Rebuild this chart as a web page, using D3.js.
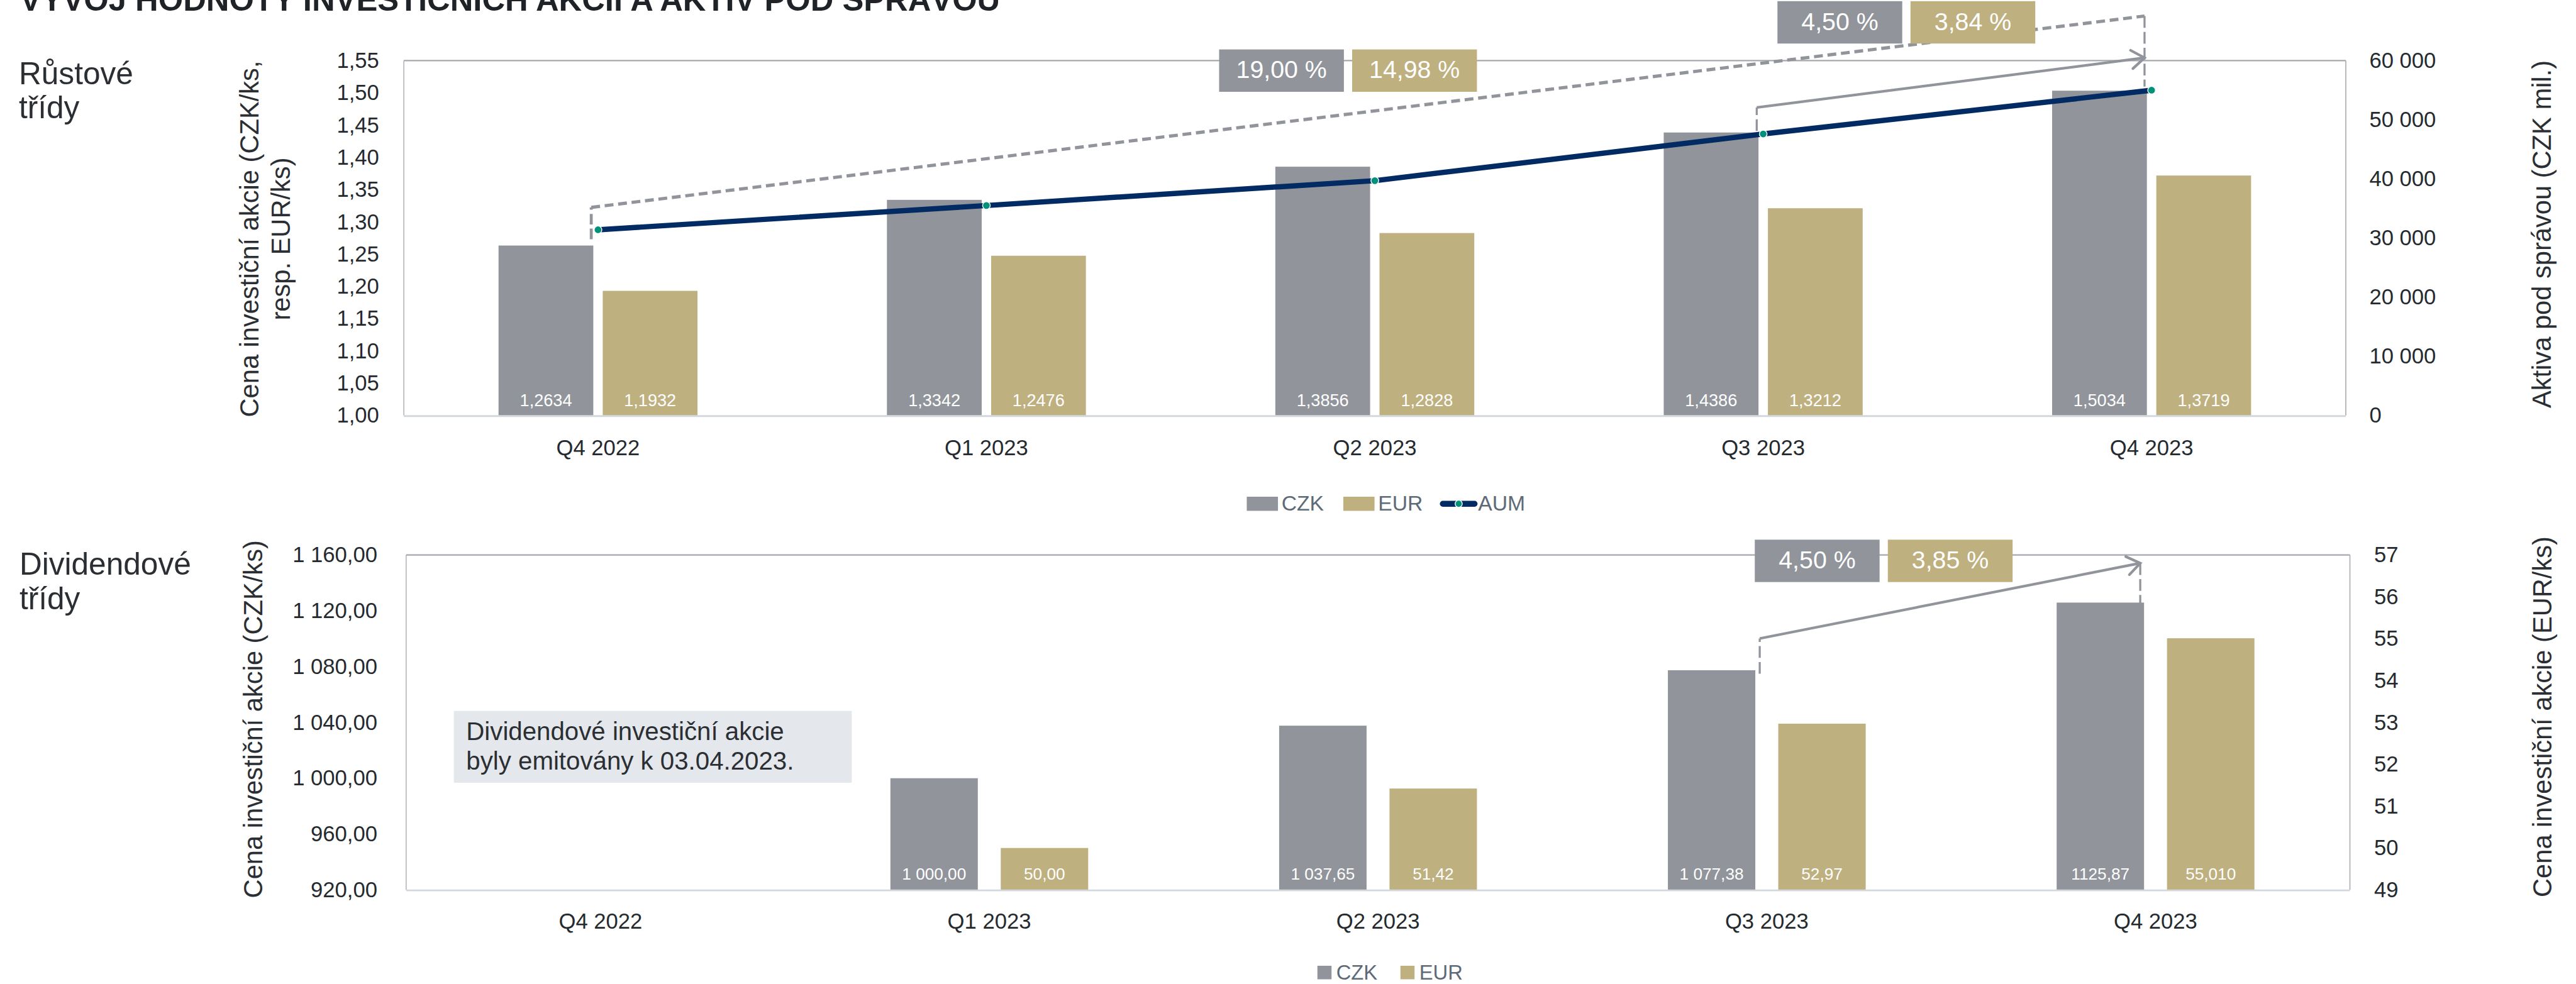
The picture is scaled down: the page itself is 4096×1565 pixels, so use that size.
<!DOCTYPE html>
<html><head><meta charset="utf-8">
<script src="https://cdn.jsdelivr.net/npm/d3@7"></script>
<style>
html,body{margin:0;padding:0;background:#fff;overflow:hidden;}
svg{display:block;}
text{font-family:"Liberation Sans",Arial,sans-serif;}
</style></head><body>
<svg id="c" width="4096" height="1565"></svg>
<script>
// ---------------- DATA ----------------
const categories = ["Q4 2022","Q1 2023","Q2 2023","Q3 2023","Q4 2023"];
const seriesNames = ["CZK","EUR"];
// Růstové třídy
const growthCZK = [1.2634,1.3342,1.3856,1.4386,1.5034];
const growthEUR = [1.1932,1.2476,1.2828,1.3212,1.3719];
const growthCZKLabels = ["1,2634","1,3342","1,3856","1,4386","1,5034"];
const growthEURLabels = ["1,1932","1,2476","1,2828","1,3212","1,3719"];
const aum = [31400,35500,39700,47600,55000];
const growthLeftTicks = [1.00,1.05,1.10,1.15,1.20,1.25,1.30,1.35,1.40,1.45,1.50,1.55];
const growthRightTicks = [0,10000,20000,30000,40000,50000,60000];
const growthPctLong = ["19,00 %","14,98 %"];
const growthPctShort = ["4,50 %","3,84 %"];
// Dividendové třídy
const divCZK = [null,1000.00,1037.65,1077.38,1125.87];
const divEUR = [null,50.00,51.42,52.97,55.010];
const divCZKLabels = ["","1 000,00","1 037,65","1 077,38","1125,87"];
const divEURLabels = ["","50,00","51,42","52,97","55,010"];
const divLeftTicks = [920,960,1000,1040,1080,1120,1160];
const divRightTicks = [49,50,51,52,53,54,55,56,57];
const divPct = ["4,50 %","3,85 %"];

// ---------------- STYLE ----------------
const S = 0.936;
const COL = {czk:"#91959b", eur:"#bfb080", aum:"#022a63", marker:"#00917a",
  text:"#252a2f", legend:"#5d6a77", border:"#a5a8ad", axis:"#d3d8dd",
  note:"#e4e7eb", dash:"#91959b"};
const loc = d3.formatLocale({decimal:",", thousands:"\u00a0", grouping:[3], currency:["",""]});

const svg = d3.select("#c");
const root = svg.append("g").attr("transform",`scale(${S})`);

// Title & section labels
root.append("text").attr("x",34).attr("y",18).attr("font-size",54).attr("font-weight","bold")
  .attr("fill","#1f2328").attr("textLength",1665).attr("lengthAdjust","spacingAndGlyphs")
  .text("VÝVOJ HODNOTY INVESTIČNÍCH AKCIÍ A AKTIV POD SPRÁVOU");
function section(lines,x,y){
  lines.forEach((t,i)=>root.append("text").attr("x",x).attr("y",y+i*58).attr("font-size",53)
    .attr("fill","#2b2f33").text(t));
}
section(["Růstové","třídy"],32,143);
section(["Dividendové","třídy"],33,977);

function frame(g,P){
  g.append("line").attr("x1",P.x0).attr("x2",P.x0).attr("y1",P.y0).attr("y2",P.y1).attr("stroke","#a9acb0").attr("stroke-width",1.5);
  g.append("line").attr("x1",P.x1).attr("x2",P.x1).attr("y1",P.y0).attr("y2",P.y1).attr("stroke","#b3b6ba").attr("stroke-width",2);
  g.append("line").attr("x1",P.x0).attr("x2",P.x1).attr("y1",P.y0).attr("y2",P.y0).attr("stroke",COL.border).attr("stroke-width",2.5);
}
function bottomLine(g,P){
  g.append("line").attr("x1",P.x0).attr("x2",P.x1).attr("y1",P.y1+1).attr("y2",P.y1+1).attr("stroke",COL.axis).attr("stroke-width",3);
}
function styleAxis(sel,size){
  sel.select(".domain").remove();
  sel.attr("font-family",null).attr("font-size",null);
  sel.selectAll("text").attr("font-size",size).attr("fill",COL.text);
}
function rotTitle(lines,x,y,gap){
  lines.forEach((t,i)=>root.append("text").attr("transform",`translate(${x+i*gap},${y}) rotate(-90)`)
    .attr("text-anchor","middle").attr("font-size",44.5).attr("fill","#2b2f33").text(t));
}
function dashedV(x,ya,yb,w,da){
  root.append("line").attr("x1",x).attr("x2",x).attr("y1",ya).attr("y2",yb)
    .attr("stroke",COL.dash).attr("stroke-width",w).attr("stroke-dasharray",da);
}
function arrow(x1,y1,x2,y2){
  root.append("line").attr("x1",x1).attr("y1",y1).attr("x2",x2).attr("y2",y2)
    .attr("stroke",COL.dash).attr("stroke-width",4.5);
  const a = Math.atan2(y2-y1,x2-x1), L=27, h=0.62;
  const p1=[x2-L*Math.cos(a-h), y2-L*Math.sin(a-h)], p2=[x2-L*Math.cos(a+h), y2-L*Math.sin(a+h)];
  root.append("path").attr("d",`M${p1}L${x2},${y2}L${p2}`).attr("fill","none")
    .attr("stroke",COL.dash).attr("stroke-width",4.5).attr("stroke-linecap","round").attr("stroke-linejoin","miter");
}
function pctBoxes(labels,x,y){
  labels.forEach((t,i)=>{
    const bx = x + i*226;
    root.append("rect").attr("x",bx).attr("y",y).attr("width",212).attr("height",72)
      .attr("fill", i===0?COL.czk:COL.eur);
    root.append("text").attr("x",bx+106).attr("y",y+49).attr("text-anchor","middle")
      .attr("font-size",42).attr("fill","#fff").text(t);
  });
}

// ================= TOP CHART =================
const T = {x0:686,x1:3985,y0:103,y1:706};
const gT = root.append("g");
const xT = d3.scaleBand().domain(categories).range([T.x0,T.x1]);
const subT = d3.scaleBand().domain(seriesNames).range([-169,169]).paddingInner(16/177);
const yTL = d3.scaleLinear().domain([1.00,1.55]).range([T.y1,T.y0]);
const yTR = d3.scaleLinear().domain([0,60000]).range([T.y1,T.y0]);
const cT = c => xT(c)+xT.bandwidth()/2;
frame(gT,T);

const topRows = categories.map((c,i)=>({c, CZK:growthCZK[i], EUR:growthEUR[i], lC:growthCZKLabels[i], lE:growthEURLabels[i]}));
topRows.forEach(r=>{
  seriesNames.forEach(s=>{
    const v=r[s];
    gT.append("rect").attr("x",cT(r.c)+subT(s)).attr("width",subT.bandwidth())
      .attr("y",yTL(v)).attr("height",yTL(1.00)-yTL(v)).attr("fill",s==="CZK"?COL.czk:COL.eur);
    gT.append("text").attr("x",cT(r.c)+subT(s)+subT.bandwidth()/2).attr("y",T.y1-16)
      .attr("text-anchor","middle").attr("font-size",29).attr("fill","#fff")
      .text(s==="CZK"?r.lC:r.lE);
  });
});
bottomLine(gT,T);

// axes
const axTL = gT.append("g").attr("transform","translate(644,0)")
  .call(d3.axisLeft(yTL).tickValues(growthLeftTicks).tickFormat(loc.format(".2f")).tickSize(0).tickPadding(0));
styleAxis(axTL,37);
const axTR = gT.append("g").attr("transform","translate(4025,0)")
  .call(d3.axisRight(yTR).tickValues(growthRightTicks).tickFormat(loc.format(",.0f")).tickSize(0).tickPadding(0));
styleAxis(axTR,37);
const axTB = gT.append("g").attr("transform","translate(0,773)")
  .call(d3.axisBottom(xT).tickSize(0).tickPadding(0));
styleAxis(axTB,37); axTB.selectAll("text").attr("dy",0).attr("y",0);

// AUM line
const line = d3.line().x((d,i)=>cT(categories[i])).y(d=>yTR(d));
gT.append("path").attr("d",line(aum)).attr("fill","none").attr("stroke",COL.aum)
  .attr("stroke-width",9).attr("stroke-linejoin","round");
aum.forEach((v,i)=>gT.append("circle").attr("cx",cT(categories[i])).attr("cy",yTR(v)).attr("r",6.5)
  .attr("fill",COL.marker).attr("stroke","#fff").attr("stroke-width",1.5));

// annotations top
{
  const xa=cT(categories[0])-11.5, ya=yTR(aum[0]);
  const xb=cT(categories[4])-12, yb=yTR(aum[4]);
  dashedV(xa, ya+16, ya-38, 5, "18 7");
  root.append("line").attr("x1",xa).attr("y1",ya-38).attr("x2",xb).attr("y2",yb-126)
    .attr("stroke",COL.dash).attr("stroke-width",5.5).attr("stroke-dasharray","15 8");
  dashedV(xb, yb-126, yb-6, 3.5, "20 7");
  const xc=cT(categories[3])-11, yc=yTR(aum[3]);
  dashedV(xc, yc-5, yc-45, 3.5, "20 7");
  arrow(xc, yc-45, xb, yb-55);
  pctBoxes(growthPctLong, 2071, 84);
  pctBoxes(growthPctShort, 3019.5, 2);
}

rotTitle(["Cena investiční akcie (CZK/ks,","resp. EUR/ks)"],439,406,54);
rotTitle(["Aktiva pod správou (CZK mil.)"],4333,398,0);

// legend top
{
  const g=root.append("g");
  [["CZK",COL.czk,2118],["EUR",COL.eur,2282]].forEach(([t,c,x])=>{
    g.append("rect").attr("x",x).attr("y",844).attr("width",53).attr("height",24).attr("fill",c);
    g.append("text").attr("x",x+59).attr("y",868).attr("font-size",36).attr("fill",COL.legend).text(t);
  });
  g.append("line").attr("x1",2451).attr("x2",2505).attr("y1",856).attr("y2",856).attr("stroke",COL.aum).attr("stroke-width",10).attr("stroke-linecap","round");
  g.append("circle").attr("cx",2478).attr("cy",856).attr("r",6).attr("fill",COL.marker).attr("stroke","#fff").attr("stroke-width",1.5);
  g.append("text").attr("x",2511).attr("y",868).attr("font-size",36).attr("fill",COL.legend).text("AUM");
}

// ================= BOTTOM CHART =================
const B = {x0:690,x1:3992,y0:943,y1:1512};
const gB = root.append("g");
const xB = d3.scaleBand().domain(categories).range([B.x0,B.x1]);
const subB = d3.scaleBand().domain(seriesNames).range([-168,168]).paddingInner(39/187.5);
const yBL = d3.scaleLinear().domain([920,1160]).range([B.y1,B.y0]);
const yBR = d3.scaleLinear().domain([49,57]).range([B.y1,B.y0]);
const cB = c => xB(c)+xB.bandwidth()/2;
frame(gB,B);

// note box
root.append("rect").attr("x",771).attr("y",1208).attr("width",676).attr("height",122).attr("fill",COL.note);
root.append("text").attr("x",792).attr("y",1257).attr("font-size",43).attr("fill","#2b2f33").text("Dividendové investiční akcie");
root.append("text").attr("x",792).attr("y",1308).attr("font-size",43).attr("fill","#2b2f33").text("byly emitovány k 03.04.2023.");

categories.forEach((c,i)=>{
  if(divCZK[i]!=null){
    gB.append("rect").attr("x",cB(c)+subB("CZK")).attr("width",subB.bandwidth())
      .attr("y",yBL(divCZK[i])).attr("height",yBL(920)-yBL(divCZK[i])).attr("fill",COL.czk);
    gB.append("text").attr("x",cB(c)+subB("CZK")+subB.bandwidth()/2).attr("y",B.y1-17)
      .attr("text-anchor","middle").attr("font-size",28).attr("fill","#fff").text(divCZKLabels[i]);
  }
  if(divEUR[i]!=null){
    gB.append("rect").attr("x",cB(c)+subB("EUR")).attr("width",subB.bandwidth())
      .attr("y",yBR(divEUR[i])).attr("height",yBR(49)-yBR(divEUR[i])).attr("fill",COL.eur);
    gB.append("text").attr("x",cB(c)+subB("EUR")+subB.bandwidth()/2).attr("y",B.y1-17)
      .attr("text-anchor","middle").attr("font-size",28).attr("fill","#fff").text(divEURLabels[i]);
  }
});
bottomLine(gB,B);

const axBL = gB.append("g").attr("transform","translate(641,0)")
  .call(d3.axisLeft(yBL).tickValues(divLeftTicks).tickFormat(loc.format(",.2f")).tickSize(0).tickPadding(0));
styleAxis(axBL,37);
const axBR = gB.append("g").attr("transform","translate(4033,0)")
  .call(d3.axisRight(yBR).tickValues(divRightTicks).tickFormat(loc.format("d")).tickSize(0).tickPadding(0));
styleAxis(axBR,37);
const axBB = gB.append("g").attr("transform","translate(0,1578)")
  .call(d3.axisBottom(xB).tickSize(0).tickPadding(0));
styleAxis(axBB,37); axBB.selectAll("text").attr("dy",0).attr("y",0);

// annotations bottom
{
  const xc=cB(categories[3])-12, yc=yBL(divCZK[3]);
  const xd=cB(categories[4])-26, yd=yBL(divCZK[4]);
  dashedV(xc, yc+6, yc-54, 3.5, "20 7");
  arrow(xc, yc-54, xd, yd-67);
  dashedV(xd, yd-67, yd+1, 3.5, "20 7");
  pctBoxes(divPct, 2981, 917);
}

rotTitle(["Cena investiční akcie (CZK/ks)"],446,1222,0);
rotTitle(["Cena investiční akcie (EUR/ks)"],4334,1218,0);

// legend bottom
{
  const g=root.append("g");
  [["CZK",COL.czk,2238],["EUR",COL.eur,2379]].forEach(([t,c,x])=>{
    g.append("rect").attr("x",x).attr("y",1641).attr("width",24).attr("height",23).attr("fill",c);
    g.append("text").attr("x",x+32).attr("y",1664).attr("font-size",35).attr("fill",COL.legend).text(t);
  });
}
</script>
</body></html>
